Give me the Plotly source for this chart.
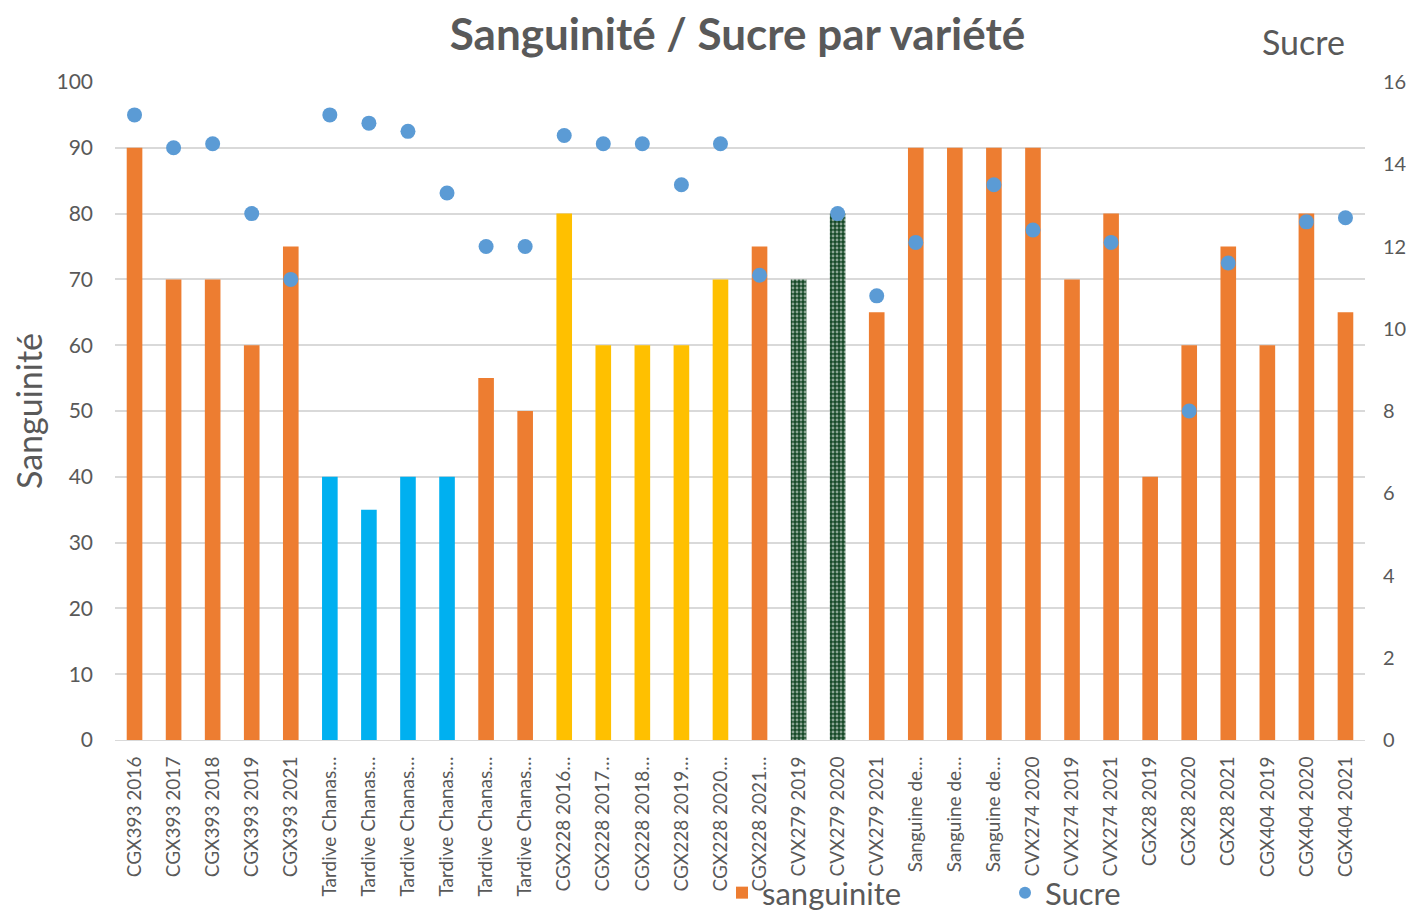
import plotly.graph_objects as go

labels = ["CGX393 2016", "CGX393 2017", "CGX393 2018", "CGX393 2019", "CGX393 2021",
          "Tardive Chanas…", "Tardive Chanas…", "Tardive Chanas…", "Tardive Chanas…",
          "Tardive Chanas…", "Tardive Chanas…",
          "CGX228 2016…", "CGX228 2017…", "CGX228 2018…", "CGX228 2019…",
          "CGX228 2020…", "CGX228 2021…",
          "CVX279 2019", "CVX279 2020", "CVX279 2021",
          "Sanguine de…", "Sanguine de…", "Sanguine de…",
          "CVX274 2020", "CVX274 2019", "CVX274 2021",
          "CGX28 2019", "CGX28 2020", "CGX28 2021",
          "CGX404 2019", "CGX404 2020", "CGX404 2021"]
sanguinite = [90, 70, 70, 60, 75,
              40, 35, 40, 40, 55, 50,
              80, 60, 60, 60, 70, 75,
              70, 80, 65,
              90, 90, 90,
              90, 70, 80,
              40, 60, 75,
              60, 80, 65]
sucre = [15.2, 14.4, 14.5, 12.8, 11.2,
         15.2, 15.0, 14.8, 13.3, 12.0, 12.0,
         14.7, 14.5, 14.5, 13.5, 14.5, 11.3,
         None, 12.8, 10.8,
         12.1, None, 13.5,
         12.4, None, 12.1,
         None, 8.0, 11.6,
         None, 12.6, 12.7]
# colour group of each bar: o=orange, b=blue, y=yellow, g=green texture
groups = "ooooobbbbooyyyyyoggooooooooooooo"

palette = {"o": "#ED7D31", "b": "#00B0F0", "y": "#FFC000", "g": "#174A28"}
bar_colors = [palette[g] for g in groups]
bar_shapes = ["." if g == "g" else "" for g in groups]

x = list(range(len(labels)))
grey = "#595959"
font = "Lato, Open Sans, sans-serif"

# the page body has an 8px margin, so the figure is shrunk to fit the window
W, H = 1398, 905
fig = go.Figure()
fig.add_trace(go.Bar(
    x=x, y=sanguinite, name="sanguinite", width=0.4,
    marker=dict(color=bar_colors, line=dict(width=0),
                pattern=dict(shape=bar_shapes, fgcolor="#3B7A4E", size=4, solidity=0.4)),
))
fig.add_trace(go.Scatter(
    x=x, y=sucre, name="Sucre", mode="markers", yaxis="y2",
    marker=dict(color="#5B9BD5", size=15),
))

fig.update_layout(
    width=W, height=H,
    paper_bgcolor="white", plot_bgcolor="white",
    margin=dict(l=107, r=41, t=74, b=173),
    font=dict(family=font, color=grey),
    title=dict(text="<b>Sanguinité / Sucre par variété</b>", x=0.498, xref="paper",
               xanchor="center", y=(H - 27) / H, yref="container", yanchor="middle",
               font=dict(size=44, color=grey)),
    xaxis=dict(tickmode="array", tickvals=x, ticktext=labels, tickangle=-90,
               range=[-0.5, len(labels) - 0.5], showgrid=False, automargin=False,
               showline=True, linecolor="#D9D9D9", linewidth=1, ticks="",
               ticklabelstandoff=8, tickfont=dict(size=19, color=grey)),
    yaxis=dict(range=[0, 100], dtick=10, showgrid=True, gridcolor="#D9D9D9",
               gridwidth=1.5, zeroline=False, automargin=False, ticklabelstandoff=21,
               title=dict(text="Sanguinité", font=dict(size=34, color=grey), standoff=10),
               tickfont=dict(size=21, color=grey)),
    yaxis2=dict(range=[0, 16], dtick=2, overlaying="y", side="right", showgrid=False,
                zeroline=False, automargin=False, ticklabelstandoff=17,
                tickfont=dict(size=20, color=grey)),
    legend=dict(orientation="h", x=714 / W, xref="container", xanchor="left",
                y=(H - 885) / H, yref="container", yanchor="middle",
                bgcolor="rgba(0,0,0,0)", entrywidth=238,
                font=dict(size=31, color=grey), itemsizing="constant"),
    showlegend=True,
    bargap=0.5,
)
fig.add_annotation(text="Sucre", xref="paper", yref="paper", x=0.951, y=1.061,
                   xanchor="center", yanchor="middle", showarrow=False,
                   font=dict(size=34, color=grey))

fig.write_html("out.html")
